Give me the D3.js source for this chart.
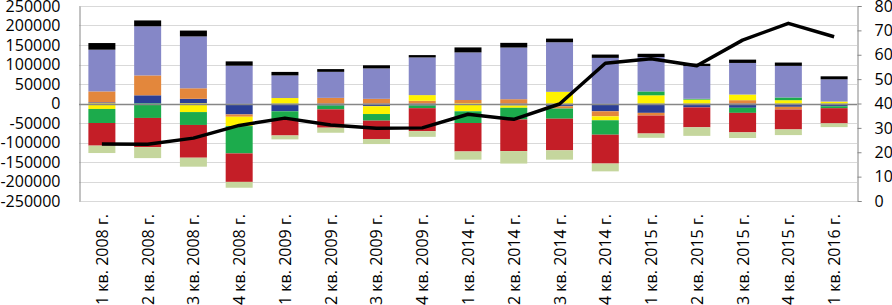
<!DOCTYPE html>
<html>
<head>
<meta charset="utf-8">
<script src="https://cdn.jsdelivr.net/npm/d3@7"></script>
<style>
  body { margin: 0; background: #fff; }
  svg text { font-family: "Open Sans", sans-serif; fill: #000; }
</style>
</head>
<body>
<div id="chart"></div>
<script>
(() => {
    // Categories (quarters)
    const quarters = [
        "1 кв. 2008 г.", "2 кв. 2008 г.", "3 кв. 2008 г.", "4 кв. 2008 г.",
        "1 кв. 2009 г.", "2 кв. 2009 г.", "3 кв. 2009 г.", "4 кв. 2009 г.",
        "1 кв. 2014 г.", "2 кв. 2014 г.", "3 кв. 2014 г.", "4 кв. 2014 г.",
        "1 кв. 2015 г.", "2 кв. 2015 г.", "3 кв. 2015 г.", "4 кв. 2015 г.",
        "1 кв. 2016 г."
    ];

    // Stacked series, in stacking order
    const darkBlue   = [3000, 21000, 12000, -28000, -20000, -5000, -7000, -5000, 0, -5000, -7000, -20000, -24000, -10000, -11000, -8500, -7000];
    const orange     = [28000, 51000, 27000, -6000, 0, 14500, 12000, 7000, 9000, 11000, -6000, -13000, -7000, 0, 8500, -7000, 0];
    const yellow     = [-14000, 0, -22000, -24000, 14000, 0, -20000, 14500, -20000, -6000, 30000, -10000, 21000, 10000, 14500, 8500, 5000];
    const green      = [-36000, -37000, -33000, -70000, -21000, -10000, -17000, -7000, -30000, -30000, -26000, -37000, 10000, 2000, -13000, 7000, -5000];
    const red        = [-58000, -75000, -84000, -73000, -41000, -47000, -47000, -59000, -73000, -81000, -81000, -74000, -46000, -51000, -50000, -51000, -39000];
    const lightGreen = [-19000, -28000, -23000, -15000, -10000, -13000, -13000, -14500, -21000, -32000, -24000, -20000, -11000, -22000, -14500, -14500, -9500];
    const lavender   = [107000, 126000, 133000, 97000, 58000, 66700, 78000, 96600, 122000, 132500, 127000, 117000, 88000, 84000, 81000, 81000, 57000];
    const black      = [17000, 15000, 15000, 11000, 9000, 7000, 8000, 6000, 12800, 12000, 9400, 8500, 8500, 6000, 8500, 8500, 7700];

    // Line on the right axis
    const lineValues = [23.4, 23.3, 25.8, 31, 34, 31.2, 29.8, 30, 35.6, 33.5, 39.8, 56.5, 58.4, 55.5, 66, 72.9, 67.4];

    // Axis ticks
    const leftTicks = [-250000, -200000, -150000, -100000, -50000, 0, 50000, 100000, 150000, 200000, 250000];
    const rightTicks = [0, 10, 20, 30, 40, 50, 60, 70, 80];

    const seriesKeys = ["darkBlue", "orange", "yellow", "green", "red", "lightGreen", "lavender", "black"];
    const seriesData = { darkBlue, orange, yellow, green, red, lightGreen, lavender, black };
    const colors = {
        darkBlue: "#2B3F96", orange: "#E3873C", yellow: "#FFF200", green: "#1CAB4C",
        red: "#C41E27", lightGreen: "#C5D69D", lavender: "#8587C7", black: "#000000"
    };

    const W = 892, H = 305;
    const plot = { left: 79, right: 857, top: 6, bottom: 201 };

    const rows = quarters.map((q, i) => {
        const r = { quarter: q };
        seriesKeys.forEach(k => { r[k] = seriesData[k][i]; });
        return r;
    });

    const svg = d3.select("#chart").append("svg")
        .attr("width", W)
        .attr("height", H);

    const x = d3.scaleBand()
        .domain(quarters)
        .range([plot.left, plot.right])
        .paddingInner(0.41)
        .paddingOuter(0.205);

    const y = d3.scaleLinear()
        .domain([-250000, 250000])
        .range([plot.bottom, plot.top]);

    const y2 = d3.scaleLinear()
        .domain([0, 80])
        .range([plot.bottom, plot.top]);

    // Gridlines
    svg.append("g")
        .selectAll("line")
        .data(leftTicks)
        .enter()
        .append("line")
        .attr("x1", plot.left)
        .attr("x2", plot.right)
        .attr("y1", d => Math.round(y(d)) + 0.5)
        .attr("y2", d => Math.round(y(d)) + 0.5)
        .attr("stroke", "#d9d9d9")
        .attr("stroke-width", 1);

    // Bars
    const stacked = d3.stack()
        .keys(seriesKeys)
        .offset(d3.stackOffsetDiverging)(rows);

    svg.append("g")
        .selectAll("g")
        .data(stacked)
        .enter()
        .append("g")
        .attr("fill", d => colors[d.key])
        .selectAll("rect")
        .data(d => d)
        .enter()
        .append("rect")
        .attr("x", d => x(d.data.quarter))
        .attr("width", x.bandwidth())
        .attr("y", d => y(Math.max(d[0], d[1])))
        .attr("height", d => Math.abs(y(d[0]) - y(d[1])));

    // Zero line
    svg.append("line")
        .attr("x1", plot.left)
        .attr("x2", plot.right)
        .attr("y1", Math.round(y(0)) + 0.5)
        .attr("y2", Math.round(y(0)) + 0.5)
        .attr("stroke", "#868686")
        .attr("stroke-width", 1.5);

    // Left axis (plain numbers, hyphen minus, no thousands separator)
    const leftAxis = svg.append("g")
        .attr("transform", `translate(${plot.left + 0.5},0)`)
        .call(d3.axisLeft(y).tickValues(leftTicks).tickFormat(d => String(d)).tickSize(0).tickPadding(19));
    leftAxis.select(".domain").attr("stroke", "#868686");
    leftAxis.selectAll("text").style("font-size", "16px");

    // Right axis
    const rightAxis = svg.append("g")
        .attr("transform", `translate(${plot.right + 0.5},0)`)
        .call(d3.axisRight(y2).tickValues(rightTicks).tickSize(4).tickPadding(13));
    rightAxis.select(".domain").attr("stroke", "#868686");
    rightAxis.selectAll(".tick line").attr("stroke", "#868686");
    rightAxis.selectAll("text").style("font-size", "16px");

    // Category labels (rotated)
    svg.append("g")
        .selectAll("text")
        .data(quarters)
        .enter()
        .append("text")
        .attr("transform", d => `translate(${x(d) + x.bandwidth() / 2 + 6},214) rotate(-90)`)
        .attr("text-anchor", "end")
        .style("font-size", "16px")
        .text(d => d);

    // Line series
    const line = d3.line()
        .x((d, i) => x(quarters[i]) + x.bandwidth() / 2)
        .y(d => y2(d));

    svg.append("path")
        .datum(lineValues)
        .attr("fill", "none")
        .attr("stroke", "#000")
        .attr("stroke-width", 3.5)
        .attr("stroke-linejoin", "round")
        .attr("d", line);
})();
</script>
</body>
</html>
